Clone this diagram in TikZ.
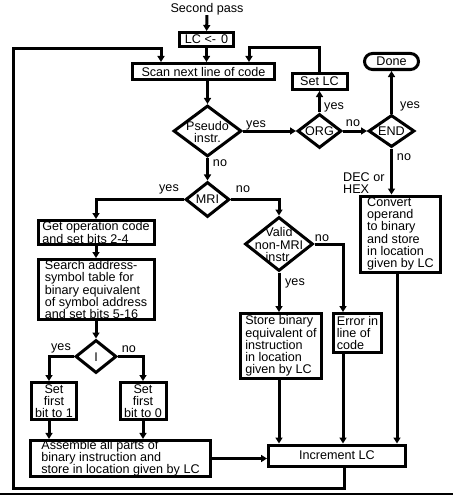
\documentclass[tikz,border=0pt]{standalone}
\usepackage{fontspec}
\setmainfont{Liberation Sans}
\usetikzlibrary{shapes.geometric,arrows.meta}

\newcommand{\chartfont}{\fontsize{12.6}{12.2}\selectfont}
\tikzset{
	box/.style={draw,rectangle,line width=3pt,inner sep=0pt,align=left,font=\chartfont},
	dia/.style={draw,diamond,line width=3pt,inner sep=0pt},
	txt/.style={inner sep=0pt,align=center,font=\chartfont},
	arr/.style={line width=3pt,-{Triangle[length=6pt,width=7pt]}},
}

\begin{document}
\begin{tikzpicture}[x=1pt,y=-1pt]
	\useasboundingbox (0,0) rectangle (453,495);
	% top row
	\node[txt] (second) at (207,9) {Second pass};
	\node[box,minimum width=54,minimum height=14] (lc) at (206.5,39.5) {LC <-\hspace{5pt}0};
	\node[box,minimum width=142,minimum height=16] (scan) at (203.5,71.5) {Scan next line of code};
	\node[box,minimum width=55,minimum height=16] (setlc) at (319.5,81.5) {Set LC};
	\node[box,rounded corners=8pt,minimum width=54,minimum height=16] (done) at (391.5,61.5) {Done};
	% first decisions
	\node[dia,minimum width=68,minimum height=51] (pseudo) at (207.5,131) {};
	\node[txt] (pseudotxt) at (207.5,132) {Pseudo\\instr.};
	\node[dia,minimum width=44,minimum height=34] (org) at (319.5,131) {};
	\node[txt] (orgtxt) at (319.5,131) {ORG};
	\node[dia,minimum width=46,minimum height=32] (endd) at (391.5,131) {};
	\node[txt] (endtxt) at (391.5,131) {END};
	\node[dia,minimum width=44,minimum height=35] (mri) at (207.5,199.5) {};
	\node[txt] (mritxt) at (207.5,199.5) {MRI};
	% MRI branch
	\node[box,minimum width=116,minimum height=24] (getop) at (96,232.5) {Get operation code\\and set bits 2-4};
	\node[box,minimum width=116,minimum height=60] (search) at (96,289.5) {Search address-\\symbol table for\\binary equivalent\\of symbol address\\and set bits 5-16};
	\node[dia,minimum width=41,minimum height=33] (idiam) at (96,356.5) {};
	\node[txt] (itxt) at (96,357) {I};
	\node[box,align=center,minimum width=45,minimum height=37] (set1) at (54,401) {Set\\first\\bit to 1};
	\node[box,align=center,minimum width=46,minimum height=37] (set0) at (143,401) {Set\\first\\bit to 0};
	\node[box,minimum width=180,minimum height=36] (assemble) at (120.5,458.5) {Assemble all parts of\\binary instruction and\\store in location given by LC};
	% non-MRI branch
	\node[dia,minimum width=68,minimum height=54] (valid) at (279,244) {};
	\node[txt] (validtxt) at (279,244.5) {Valid\\non-MRI\\instr.};
	\node[box,minimum width=81,minimum height=65] (store) at (281,346) {Store binary\\equivalent of\\instruction\\in location\\given by LC};
	\node[box,minimum width=48,minimum height=39] (error) at (357.5,333) {Error in\\line of\\code};
	\node[box,minimum width=80,minimum height=76] (convert) at (400.5,234) {Convert\\operand\\to binary\\and store\\in location\\given by LC};
	\node[box,minimum width=137,minimum height=21] (incr) at (337,455.5) {Increment LC};
	% labels
	\node[txt] (yes1) at (256,125) {yes};
	\node[txt] (yes2) at (334,107) {yes};
	\node[txt] (no1) at (353,123) {no};
	\node[txt] (yes3) at (410,106) {yes};
	\node[txt] (no2) at (404,157) {no};
	\node[txt] (no3) at (220,163) {no};
	\node[txt] (yes4) at (169,189) {yes};
	\node[txt] (no4) at (243,189) {no};
	\node[txt] (no5) at (322,238) {no};
	\node[txt] (yes5) at (295,283) {yes};
	\node[txt] (yes6) at (61,348) {yes};
	\node[txt] (no6) at (129,349) {no};
	\node[txt,align=left,anchor=west] (dechex) at (343,183) {DEC or\\HEX};
	% helper points
	\coordinate (leftrail) at (13,49);
	\coordinate (s1in) at ([xshift=-5pt]set1.north);
	\coordinate (s1out) at ([xshift=-5pt]set1.south);
	\coordinate (errin) at ([xshift=-14.5pt]error.north);
	\coordinate (convout) at ([xshift=-3.5pt]convert.south);
	% connectors
	\draw[arr] (second) -- (lc);
	\draw[arr] (lc) -- (lc |- scan.north);
	\draw[arr] (pseudo |- scan.south) -- (pseudo);
	\draw[arr] (pseudo) -- (org);
	\draw[arr] (org) -- (setlc);
	\draw[arr] (org) -- (endd);
	\draw[arr] (endd) -- (done);
	\draw[arr] (setlc.north) -- ++(0,-24) -| ([xshift=45.5pt]scan.north);
	\draw[arr] (pseudo) -- (mri);
	\draw[arr] (mri.west) -| (getop.north);
	\draw[arr] (mri.east) -| (valid.north);
	\draw[arr] (getop) -- (search);
	\draw[arr] (search) -- (idiam);
	\draw[arr] (idiam.west) -| (s1in);
	\draw[arr] (idiam.east) -| (set0.north);
	\draw[arr] (s1out) -- (s1out |- assemble.north);
	\draw[arr] (set0) -- (set0 |- assemble.north);
	\draw[arr] (assemble.east) -- (assemble.east -| incr.west);
	\draw[arr] (valid) -- (valid |- store.north);
	\draw[arr] (valid.east) -| (errin);
	\draw[arr] (valid |- store.south) -- (valid |- incr.north);
	\draw[arr] (errin |- error.south) -- (errin |- incr.north);
	\draw[arr] (endd) -- (endd |- convert.north);
	\draw[arr] (convout) -- (convout |- incr.north);
	\draw[arr] ([xshift=7pt]incr.south) -- ++(0,21) -| (leftrail) -| ([xshift=-42.5pt]scan.north);
	\draw[line width=1.5pt] (0,494) -- (453,494);
\end{tikzpicture}
\end{document}
